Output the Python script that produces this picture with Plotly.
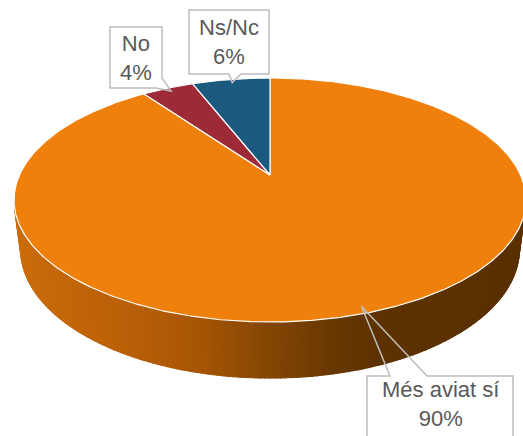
import numpy as np
import plotly.graph_objects as go

# Survey answers (share of respondents, %)
labels = ["Més aviat sí", "No", "Ns/Nc"]
values = [90, 4, 6]
colors = ["#EE800B", "#9E2A37", "#1B5A7E"]

W, H_PX = 523, 436

# Perspective view of a flat cylinder (tilted disc with a rim)
CX, CY = 270.0, 175.0
ALPHA = np.radians(28.5)
DIST = 4.29
FX, FY = 1075.0, 1051.0
THICK = 0.231
SA, CA = np.sin(ALPHA), np.cos(ALPHA)


def project(X, Y, Z):
    yc = Y * SA + Z * CA
    zc = DIST + Y * CA - Z * SA
    return CX + FX * X / zc, CY - FY * yc / zc


def rim(t_deg, r=1.0, z=0.0):
    t = np.radians(t_deg)
    return project(r * np.sin(t), r * np.cos(t), z)


# shading of the outer wall, varying from left to right
shade_x = [0, 130, 200, 250, 330, 380, 523]
shade_rgb = [(205, 110, 12), (185, 95, 8), (166, 85, 4), (140, 74, 4),
             (105, 56, 1), (93, 50, 0), (90, 48, 0)]


def wall_color(x):
    c = [np.interp(x, shade_x, [s[i] for s in shade_rgb]) for i in range(3)]
    return "rgb(%d,%d,%d)" % tuple(int(round(v)) for v in c)


fig = go.Figure()

# slice angle ranges, clockwise from 12 o'clock
total = float(sum(values))
starts = np.cumsum([0] + values[:-1]) / total * 360.0
ends = np.cumsum(values) / total * 360.0


def facing(t_deg):
    return np.cos(np.radians(t_deg)) < -1.0 / (DIST * CA)


# outer wall: an underlay for the whole visible band, then shaded strips
step = 1.0
band = np.arange(0, 360, 0.5)
band = band[facing(band)]
ux_top, uy_top = rim(band)
ux_bot, uy_bot = rim(band[::-1], z=-THICK)
fig.add_trace(go.Scatter(
    x=np.concatenate([ux_top, ux_bot, ux_top[:1]]),
    y=np.concatenate([uy_top, uy_bot, uy_top[:1]]),
    mode="lines", fill="toself", fillcolor=wall_color(270),
    line=dict(color=wall_color(270), width=0.5), hoverinfo="skip"))

for s, e in zip(starts, ends):
    t = s
    while t < e - 1e-9:
        t2 = min(t + step, e)
        if facing((t + t2) / 2):
            xa, ya = rim(t)
            xb, yb = rim(t2)
            xc, yc = rim(t2, z=-THICK)
            xd, yd = rim(t, z=-THICK)
            col = wall_color((xa + xb) / 2)
            fig.add_trace(go.Scatter(
                x=[xa, xb, xc, xd, xa], y=[ya, yb, yc, yd, ya],
                mode="lines", fill="toself", fillcolor=col,
                line=dict(color=col, width=1.2), hoverinfo="skip"))
        t = t2

# top faces of the slices
for s, e, col, lab, v in zip(starts, ends, colors, labels, values):
    ts = np.linspace(s, e, max(int((e - s) * 2), 2) + 1)
    xs, ys = rim(ts)
    px = np.concatenate([[CX], xs, [CX]])
    py = np.concatenate([[CY], ys, [CY]])
    fig.add_trace(go.Scatter(
        x=px, y=py, mode="lines", fill="toself", fillcolor=col,
        line=dict(color="white", width=1.2),
        name=lab, text="%s: %d%%" % (lab, v), hoverinfo="text"))

# data callouts (same order as labels): box corners and pointer base
callouts = [
    dict(box=(367, 376, 513, 450), side="top", base=(390, 427)),
    dict(box=(110, 27, 162, 88), side="right", base=(78, 156)),
    dict(box=(189, 10, 269, 74), side="bottom", base=(241, 229)),
]

for (s, e, lab, v, co) in zip(starts, ends, labels, values, callouts):
    tip_x, tip_y = rim((s + e) / 2, r=0.96)
    x0, y0, x1, y1 = co["box"]
    if co["side"] == "right":
        ry, bx = co["base"]
        path = (f"M{x0},{y0} L{x1},{y0} L{x1},{ry} L{tip_x:.1f},{tip_y:.1f} "
                f"L{bx},{y1} L{x0},{y1} Z")
    elif co["side"] == "bottom":
        b1, b2 = co["base"]
        path = (f"M{x0},{y0} L{x1},{y0} L{x1},{y1} L{b1},{y1} "
                f"L{tip_x:.1f},{tip_y:.1f} L{b2},{y1} L{x0},{y1} Z")
    else:
        b1, b2 = co["base"]
        path = (f"M{x0},{y1} L{x0},{y0} L{b1},{y0} L{tip_x:.1f},{tip_y:.1f} "
                f"L{b2},{y0} L{x1},{y0} L{x1},{y1}")
    fig.add_shape(type="path", path=path, xref="x", yref="y",
                  line=dict(color="#BDBDBD", width=1.5),
                  fillcolor="rgba(255,255,255,0)")
    cy = (y0 + y1) / 2 if co["side"] != "top" else 404
    fig.add_annotation(x=(x0 + x1) / 2, y=cy, xref="x", yref="y",
                       text=f"{lab}<br>{v}%", showarrow=False,
                       font=dict(family="Liberation Sans, Arial", size=22,
                                 color="#595959"),
                       align="center", xanchor="center", yanchor="middle")

fig.update_layout(
    width=W, height=H_PX,
    margin=dict(l=0, r=0, t=0, b=0),
    paper_bgcolor="white", plot_bgcolor="white",
    showlegend=False,
    xaxis=dict(range=[0, W], visible=False, fixedrange=True),
    yaxis=dict(range=[H_PX, 0], visible=False, fixedrange=True),
)

fig.write_html("out.html")
